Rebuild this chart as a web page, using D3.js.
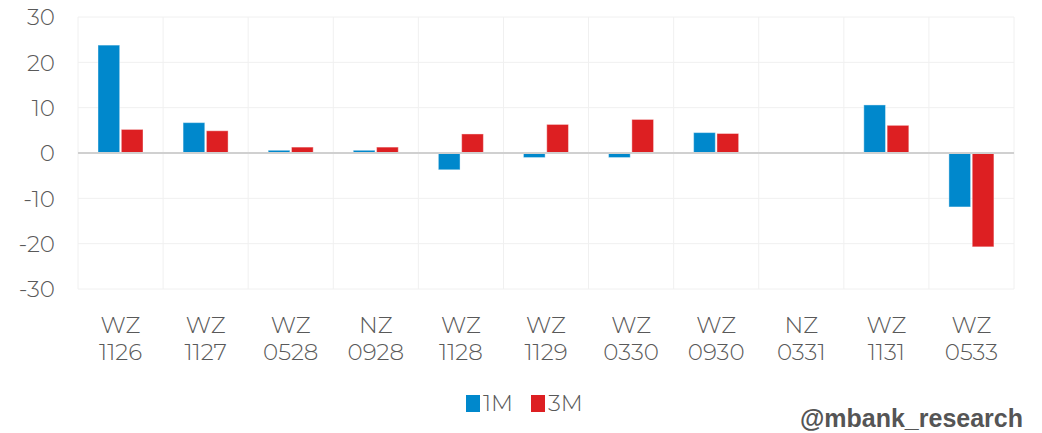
<!DOCTYPE html>
<html>
<head>
<meta charset="utf-8">
<script src="https://cdn.jsdelivr.net/npm/d3@7"></script>
<style>
  body { margin: 0; background: #fff; }
  svg text { font-family: "Montserrat", "Lato", "Open Sans", sans-serif; font-weight: 300; }
</style>
</head>
<body>
<svg width="1042" height="433"></svg>
<script>
const categories = ["WZ 1126", "WZ 1127", "WZ 0528", "NZ 0928", "WZ 1128", "WZ 1129", "WZ 0330", "WZ 0930", "NZ 0331", "WZ 1131", "WZ 0533"];
const series1M = [23.8, 6.7, 0.6, 0.6, -3.7, -1.0, -1.0, 4.5, 0, 10.6, -11.9];
const series3M = [5.2, 4.9, 1.3, 1.3, 4.2, 6.3, 7.4, 4.3, 0, 6.1, -20.7];
const seriesNames = ["1M", "3M"];
const colors = ["#0088cc", "#dd1f22"];
const yTicks = [-30, -20, -10, 0, 10, 20, 30];

const svg = d3.select("svg");
const m = {left: 78, right: 1014, top: 17, bottom: 289};

const x = d3.scaleBand().domain(categories).range([m.left, m.right]);
const x1 = d3.scaleBand().domain(seriesNames).range([20, 65]).paddingInner(0.07);
const y = d3.scaleLinear().domain([-30, 30]).range([m.bottom, m.top]);

// grid
svg.append("g").selectAll("line").data(yTicks).enter().append("line")
  .attr("x1", m.left).attr("x2", m.right)
  .attr("y1", d => y(d)).attr("y2", d => y(d))
  .attr("stroke", "#f0f0f0").attr("stroke-width", 1);

svg.append("g").selectAll("line").data(d3.range(categories.length + 1)).enter().append("line")
  .attr("x1", i => m.left + i * x.bandwidth()).attr("x2", i => m.left + i * x.bandwidth())
  .attr("y1", m.top).attr("y2", m.bottom)
  .attr("stroke", "#f0f0f0").attr("stroke-width", 1);

// y labels
svg.append("g").selectAll("text").data(yTicks).enter().append("text")
  .attr("x", 55).attr("y", d => y(d)).attr("dy", "0.36em")
  .attr("text-anchor", "end").attr("fill", "#595959")
  .style("font-size", "23px")
  .text(d => d);

// bars
const rows = categories.map((c, i) => ({cat: c, vals: [series1M[i], series3M[i]]}));
const grp = svg.append("g").selectAll("g").data(rows).enter().append("g")
  .attr("transform", d => `translate(${x(d.cat)},0)`);

grp.selectAll("rect").data(d => d.vals.map((v, k) => ({v, k}))).enter().append("rect")
  .filter(d => d.v !== 0)
  .attr("x", d => x1(seriesNames[d.k]))
  .attr("width", x1.bandwidth())
  .attr("y", d => y(Math.max(0, d.v)))
  .attr("height", d => Math.abs(y(d.v) - y(0)))
  .attr("fill", d => colors[d.k])
  .attr("stroke", "#fff").attr("stroke-opacity", 0.4).attr("stroke-width", 1);

// zero line
svg.append("line")
  .attr("x1", m.left).attr("x2", m.right)
  .attr("y1", y(0)).attr("y2", y(0))
  .attr("stroke", "#d0d0d0").attr("stroke-width", 2);

// x labels
const xl = svg.append("g").selectAll("text").data(categories).enter().append("text")
  .attr("x", d => x(d) + x.bandwidth() / 2)
  .attr("text-anchor", "middle").attr("fill", "#595959")
  .style("font-size", "23px");
xl.append("tspan").attr("x", d => x(d) + x.bandwidth() / 2).attr("y", 333).text(d => d.split(" ")[0]);
xl.append("tspan").attr("x", d => x(d) + x.bandwidth() / 2).attr("y", 360).text(d => d.split(" ")[1]);

// legend
const leg = svg.append("g");
const legX = [466, 531];
seriesNames.forEach((s, i) => {
  leg.append("rect").attr("x", legX[i]).attr("y", 395).attr("width", 14).attr("height", 17)
    .attr("fill", colors[i]);
  leg.append("text").attr("x", legX[i] + 17).attr("y", 411)
    .attr("fill", "#595959").style("font-size", "23px").text(s);
});

// watermark
svg.append("text").attr("x", 1023).attr("y", 427).attr("text-anchor", "end")
  .attr("fill", "#555").style("font-family", "'Liberation Sans', Arial, sans-serif")
  .style("font-weight", "bold").style("font-size", "25px")
  .text("@mbank_research");
</script>
</body>
</html>
